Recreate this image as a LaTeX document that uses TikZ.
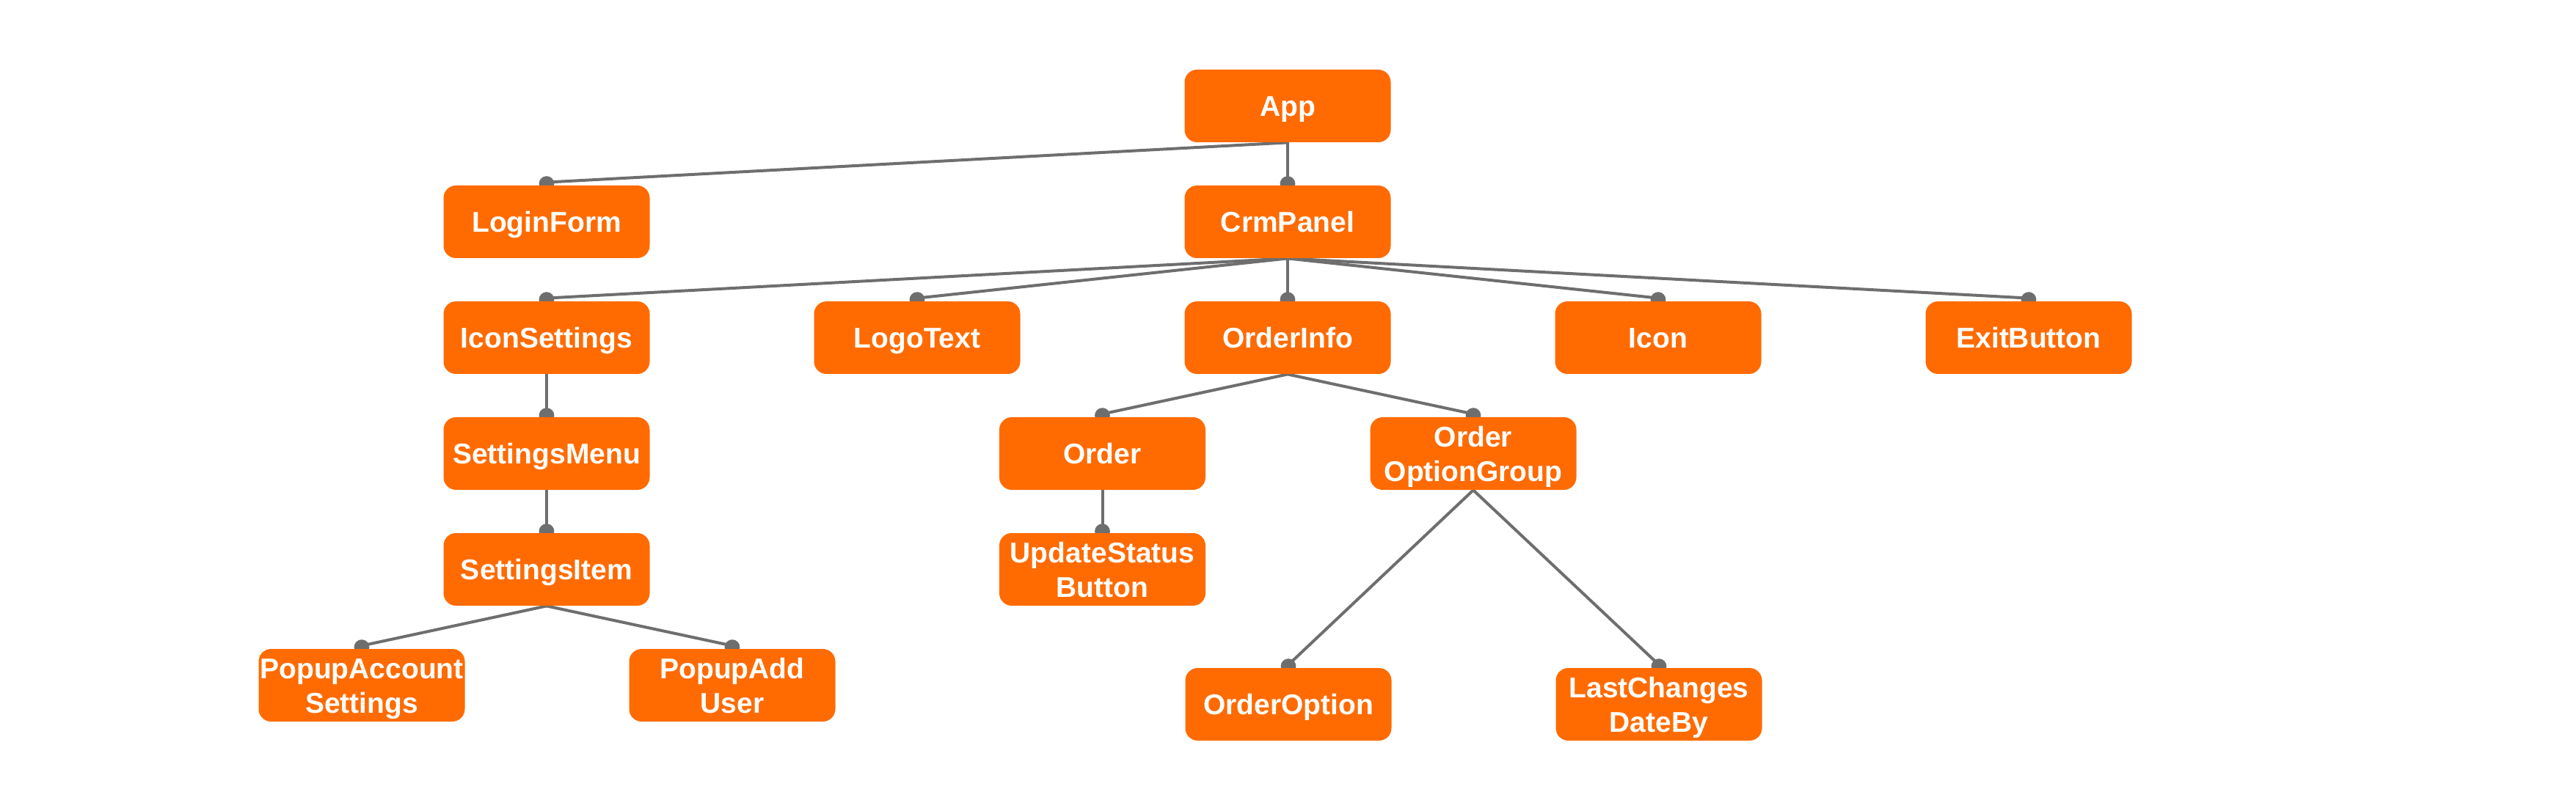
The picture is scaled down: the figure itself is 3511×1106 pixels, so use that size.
\documentclass[tikz,border=0pt]{standalone}
\usepackage{fontspec}
\setmainfont{Liberation Sans}
\usetikzlibrary{backgrounds}
\definecolor{boxorange}{HTML}{FF6B00}
\definecolor{linegray}{HTML}{6E6E6E}
\tikzset{
  comp/.style={rectangle, rounded corners=8.5pt, fill=boxorange, text=white,
    minimum width=140.5pt, minimum height=49.5pt, inner sep=0pt,
    align=center, text height=14pt, text depth=0pt,
    font=\fontsize{19.5pt}{23.5pt}\selectfont\bfseries},
  twoline/.style={comp, text height=37.5pt},
  link/.style={draw=linegray, line width=2pt},
  knob/.style={fill=linegray, draw=none}
}
\begin{document}
\begin{tikzpicture}[x=0.5pt,y=-0.5pt]
\useasboundingbox (0,0) rectangle (3511,1106);
% row tops: 95, 253, 411, 569, 727, 885 ; height 99 -> center +49.5
\node[comp] (app)   at (1755,144.5) {App};
\node[comp] (login) at (745,302.5) {LoginForm};
\node[comp] (crm)   at (1755,302.5) {CrmPanel};
\node[comp] (iset)  at (745,460.5) {IconSettings};
\node[comp] (logo)  at (1250,460.5) {LogoText};
\node[comp] (oinfo) at (1755,460.5) {OrderInfo};
\node[comp] (icon)  at (2260,460.5) {Icon};
\node[comp] (exit)  at (2765,460.5) {ExitButton};
\node[comp] (smenu) at (745,618.5) {SettingsMenu};
\node[comp] (order) at (1502.5,618.5) {Order};
\node[twoline] (ogrp)  at (2008,618.5) {Order\\OptionGroup};
\node[comp] (sitem) at (745,776.5) {SettingsItem};
\node[twoline] (upd)   at (1502.5,776.5) {UpdateStatus\\Button};
\node[twoline] (pacc)  at (493,934.5) {PopupAccount\\Settings};
\node[twoline] (padd)  at (998,934.5) {PopupAdd\\User};
\node[comp] (oopt)  at (1756,960.5) {OrderOption};
\node[twoline] (lcd)   at (2261,960.5) {LastChanges\\DateBy};
\begin{scope}[on background layer]
\foreach \p/\c in {app/login, app/crm, crm/iset, crm/logo, crm/oinfo, crm/icon, crm/exit,
  iset/smenu, smenu/sitem, sitem/pacc, sitem/padd, oinfo/order, oinfo/ogrp,
  order/upd, ogrp/oopt, ogrp/lcd}{
  \draw[link] (\p.south) -- ([yshift=2pt]\c.north);
  \fill[knob] ([yshift=1pt]\c.north) circle (5.2pt);
}
\end{scope}
\end{tikzpicture}
\end{document}
